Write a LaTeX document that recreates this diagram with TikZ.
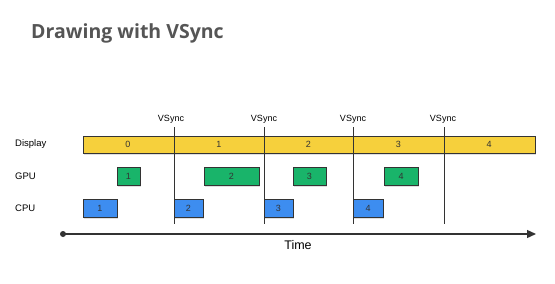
\documentclass[tikz,border=0pt]{standalone}
\usepackage{fontspec}
\setmainfont{Liberation Sans}
\newfontfamily\titlefont{Open Sans}
\usetikzlibrary{shadows,arrows.meta}
\definecolor{dispY}{HTML}{F6D03C}
\definecolor{gpuG}{HTML}{19B46A}
\definecolor{cpuB}{HTML}{3D8DF0}
\definecolor{edgeC}{HTML}{333333}
\definecolor{titleC}{HTML}{555555}
\tikzset{
  seg/.style={draw=edgeC, line width=0.9pt, minimum height=17pt, inner sep=0pt, font=\fontsize{9}{10}\selectfont, text=black!80},
  dispseg/.style={inner sep=0pt, minimum height=17pt, font=\fontsize{9}{10}\selectfont, text=black!80},
  gpubox/.style={seg, fill=gpuG, minimum height=18pt, drop shadow={opacity=0.25, shadow xshift=1pt, shadow yshift=-1.5pt}},
  cpubox/.style={seg, fill=cpuB, minimum height=18pt, drop shadow={opacity=0.25, shadow xshift=1pt, shadow yshift=-1.5pt}},
  rowlabel/.style={anchor=west, inner sep=0pt, font=\fontsize{9.5}{11}\selectfont},
  vslabel/.style={inner sep=0pt, font=\fontsize{9}{10}\selectfont},
  vsline/.style={draw=edgeC, line width=0.7pt},
}
\begin{document}
\begin{tikzpicture}[x=1pt,y=-1pt]
\useasboundingbox[fill=white] (0,0) rectangle (555,284);
% title
\node[anchor=west, inner sep=0pt, font=\titlefont\bfseries\fontsize{19.5}{22}\selectfont, text=titleC] (title) at (31,33.5) {Drawing with VSync};
% row labels
\node[rowlabel] (ldisp) at (15,144.5) {Display};
\node[rowlabel] (lgpu) at (15,176) {GPU};
\node[rowlabel] (lcpu) at (15,208) {CPU};
% display bar
\node[draw=edgeC, line width=0.9pt, fill=dispY, minimum width=452pt, minimum height=17pt, inner sep=0pt, drop shadow={opacity=0.25, shadow xshift=1pt, shadow yshift=-1.5pt}] (bar) at (309,144.5) {};
\node[dispseg] (d0) at (128,144.5) {0};
\node[dispseg] (d1) at (219,144.5) {1};
\node[dispseg] (d2) at (308.5,144.5) {2};
\node[dispseg] (d3) at (398.5,144.5) {3};
\node[dispseg] (d4) at (489,144.5) {4};
% vsync lines
\coordinate (v1t) at (174,127); \coordinate (v1b) at (174,224);
\coordinate (v2t) at (264,127); \coordinate (v2b) at (264,224);
\coordinate (v3t) at (353.5,127); \coordinate (v3b) at (353.5,224);
\coordinate (v4t) at (444,127); \coordinate (v4b) at (444,224);
\draw[vsline] (v1t) -- (v1b);
\draw[vsline] (v2t) -- (v2b);
\draw[vsline] (v3t) -- (v3b);
\draw[vsline] (v4t) -- (v4b);
\node[vslabel] (vs1) at (171,119.5) {VSync};
\node[vslabel] (vs2) at (264,119.5) {VSync};
\node[vslabel] (vs3) at (353,119.5) {VSync};
\node[vslabel] (vs4) at (443,119.5) {VSync};
% GPU boxes
\node[gpubox, minimum width=23pt] (g1) at (128.5,176) {1};
\node[gpubox, minimum width=55pt] (g2) at (231.5,176) {2};
\node[gpubox, minimum width=33pt] (g3) at (309.5,176) {3};
\node[gpubox, minimum width=34pt] (g4) at (401,176) {4};
% CPU boxes
\node[cpubox, minimum width=34pt] (c1) at (100,208) {1};
\node[cpubox, minimum width=29pt] (c2) at (188.5,208) {2};
\node[cpubox, minimum width=29pt] (c3) at (278.5,208) {3};
\node[cpubox, minimum width=30pt] (c4) at (368,208) {4};
% time axis
\coordinate (t0) at (63,234);
\coordinate (t1) at (536,234);
\fill[edgeC] (t0) circle (3pt);
\draw[edgeC, line width=1.3pt, -{Triangle[length=9pt,width=8pt]}] (t0) -- (t1);
\node[inner sep=0pt, font=\fontsize{12.5}{14}\selectfont] (time) at (298,245) {Time};
\end{tikzpicture}
\end{document}
